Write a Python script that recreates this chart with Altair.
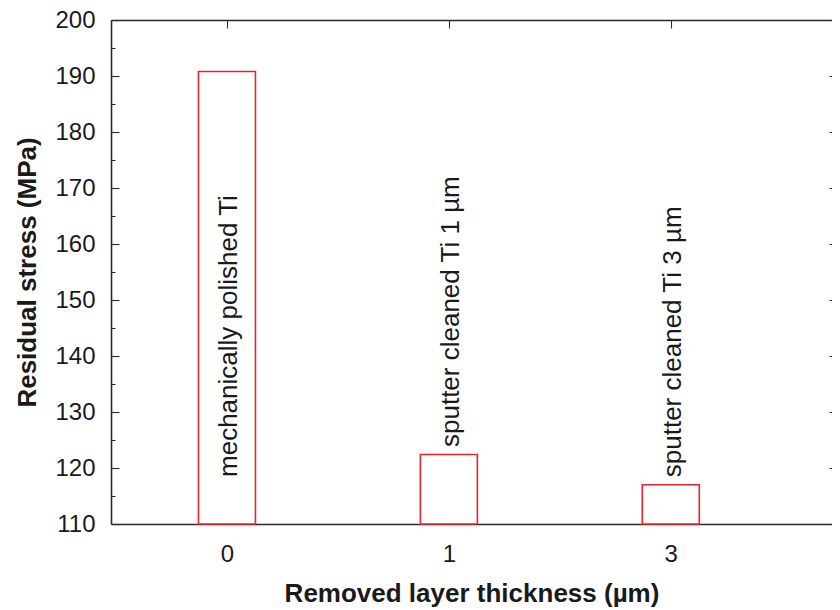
import altair as alt
import pandas as pd

# ---- data ----
thickness_labels = ["0", "1", "3"]
stress_values = [190.8, 122.4, 117.0]
bar_labels = ["mechanically polished Ti", "sputter cleaned Ti 1 µm", "sputter cleaned Ti 3 µm"]
y_major_ticks = [110, 120, 130, 140, 150, 160, 170, 180, 190, 200]
y_minor_ticks = [115, 125, 135, 145, 155, 165, 175, 185, 195]

df = pd.DataFrame({
    "slot": list(range(len(thickness_labels))),
    "thickness": thickness_labels,
    "stress": stress_values,
    "label": bar_labels,
})

FONT = "Liberation Sans"
INK = "#1a1a1a"
FRAME = "#2a2a2a"
RED = "#ea2328"
slots = list(range(len(thickness_labels)))
label_expr = "[" + ",".join("'%s'" % t for t in thickness_labels) + "][datum.value]"

# plot area is cut by the right edge of the picture, as in the reference
xscale = alt.Scale(domain=[-0.5, 2.704], nice=False, zero=False)
yscale = alt.Scale(domain=[110, 200], nice=False, zero=False)

common = dict(grid=False, domainColor=FRAME, domainWidth=1.6, tickColor=FRAME, tickWidth=1.1)

# main axes: frame lines, labels and titles
x_main = alt.Axis(orient="bottom", values=slots, labelExpr=label_expr, ticks=False,
                  labelPadding=18, labelFont=FONT, labelFontSize=24, labelColor=INK,
                  title="Removed layer thickness (µm)", titleFont=FONT, titleFontSize=26,
                  titleFontWeight="bold", titleColor=INK, titleX=360.5, titleY=69,
                  titleAlign="center", titleBaseline="middle", **common)
y_main = alt.Axis(orient="left", values=y_major_ticks, ticks=False, labelPadding=16,
                  labelFont=FONT, labelFontSize=24, labelColor=INK,
                  title="Residual stress (MPa)", titleFont=FONT, titleFontSize=26,
                  titleFontWeight="bold", titleColor=INK, titleX=-84, titleY=252,
                  titleAngle=270, titleAlign="center", titleBaseline="middle", **common)

# inward tick axes
x_bottom_ticks = alt.Axis(orient="bottom", values=slots, domain=False, labels=False, title=None,
                          offset=-7, tickSize=7, **common)
y_left_major = alt.Axis(orient="left", values=y_major_ticks, domain=False, labels=False, title=None,
                        offset=-8, tickSize=8, **common)
x_top_frame = alt.Axis(orient="top", values=slots, ticks=False, labels=False, title=None, **common)
y_left_minor = alt.Axis(orient="left", values=y_minor_ticks, domain=False, labels=False, title=None,
                        offset=-4, tickSize=4, **common)
x_top_ticks = alt.Axis(orient="top", values=slots, domain=False, labels=False, title=None,
                       offset=-8, tickSize=8, **common)
y_right_ticks = alt.Axis(orient="right", values=y_major_ticks, domain=False, labels=False, title=None,
                         offset=-3, tickSize=3, **common)

base = alt.Chart(df)

bars = base.mark_bar(size=57, fill="white", stroke=RED, strokeWidth=1.6).encode(
    x=alt.X("slot:Q", scale=xscale, axis=x_main),
    y=alt.Y("stress:Q", scale=yscale, axis=y_main),
    y2=alt.Y2(datum=110),
)

texts = base.transform_calculate(
    label_y="datum.stress > 150 ? 118.4 : datum.stress + 1.35"
).mark_text(angle=270, align="left", baseline="alphabetic", dy=10, font=FONT,
            fontSize=26, color=INK).encode(
    x=alt.X("slot:Q", scale=xscale, axis=x_bottom_ticks),
    y=alt.Y("label_y:Q", scale=yscale, axis=y_left_major),
    text="label:N",
)

guides1 = base.mark_point(opacity=0).encode(
    x=alt.X("slot:Q", scale=xscale, axis=x_top_frame),
    y=alt.Y("stress:Q", scale=yscale, axis=y_left_minor),
)

guides2 = base.mark_point(opacity=0).encode(
    x=alt.X("slot:Q", scale=xscale, axis=x_top_ticks),
    y=alt.Y("stress:Q", scale=yscale, axis=y_right_ticks),
)

chart = alt.layer(bars, texts, guides1, guides2).resolve_axis(
    x="independent", y="independent"
).properties(
    width=721,
    height=504,
    autosize=alt.AutoSizeParams(type="none"),
    padding={"left": 103, "top": 12, "right": 0, "bottom": 86},
    background="white",
).configure_view(stroke="transparent")

chart.save("out.html", embed_options={"renderer": "svg", "actions": False})
